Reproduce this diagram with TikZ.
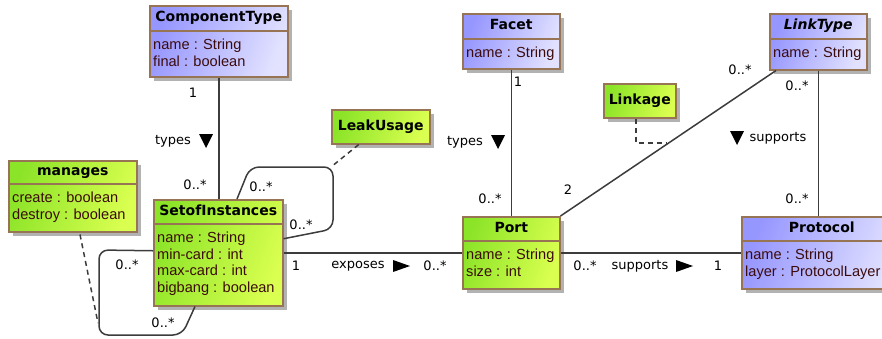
\documentclass[tikz,border=0pt]{standalone}
\usepackage{fontspec}
\setmainfont{DejaVu Sans}
\newfontfamily\attrfont{Liberation Sans}
\usetikzlibrary{calc,shadows}
\definecolor{bordc}{RGB}{150,116,84}
\definecolor{blueL}{RGB}{150,150,255}
\definecolor{blueR}{RGB}{226,226,255}
\definecolor{greenL}{RGB}{140,228,40}
\definecolor{greenR}{RGB}{218,255,80}
\definecolor{attrc}{RGB}{60,12,12}
\definecolor{linec}{RGB}{60,60,60}
\tikzset{
  classbox/.style={draw=bordc, line width=1.5pt, inner sep=0pt,
    drop shadow={shadow xshift=4pt, shadow yshift=-4pt, fill=black!30, opacity=1}},
  bluebox/.style={classbox, left color=blueL, right color=blueR, shading angle=70},
  greenbox/.style={classbox, left color=greenL, right color=greenR, shading angle=70},
  hdr/.style={font=\fontsize{14}{16}\selectfont\bfseries, inner sep=0pt, text=black,
    text height=10pt, text depth=3pt},
  attr/.style={font=\attrfont\fontsize{14.6}{16.6}\selectfont, text=attrc, inner sep=0pt, align=left},
  conn/.style={draw=linec, line width=1.5pt},
  dashconn/.style={draw=linec, line width=1.5pt, dashed, dash pattern=on 5pt off 4pt},
  lbl/.style={font=\fontsize{13}{15}\selectfont, text=black, inner sep=0pt},
  tri/.style={fill=black}
}
% #1 name, #2 style, #3 x, #4 y, #5 w, #6 h, #7 header height, #8 title, #9 attributes
\newcommand\umlclass[9]{%
  \node[#2, minimum width=#5pt, minimum height=#6pt, anchor=north west] (#1) at (#3,#4) {};
  \draw[bordc, line width=1.5pt] ($(#1.north west)+(0,#7)$) -- ($(#1.north east)+(0,#7)$);
  \node[hdr] (#1-t) at ($(#1.north)+(0,#7/2)$) {#8};
  \node[attr, anchor=north west] (#1-a) at ($(#1.north west)+(4,#7+8)$) {#9};
}
\newcommand\umlsimple[7]{%
  \node[#2, minimum width=#5pt, minimum height=#6pt, anchor=north west] (#1) at (#3,#4) {};
  \node[hdr] (#1-t) at (#1.center) {#7};
}
\newcommand\tridown[1]{\fill[tri] ($(#1)+(-7,-7)$) -- ($(#1)+(7,-7)$) -- ($(#1)+(0,7)$) -- cycle;}
\newcommand\triright[1]{\fill[tri] ($(#1)+(-8,-6)$) -- ($(#1)+(-8,6)$) -- ($(#1)+(9,0)$) -- cycle;}
\begin{document}
\begin{tikzpicture}[x=1pt,y=-1pt]
\useasboundingbox (0,0) rectangle (882,338);
% classes
\umlclass{ct}{bluebox}{149}{5}{138}{71}{26}{ComponentType}{name : String\\final : boolean}
\umlclass{facet}{bluebox}{462}{13}{97}{55}{26}{Facet}{name : String}
\umlclass{lt}{bluebox}{769}{13}{97}{56}{26}{\itshape LinkType}{name : String}
\umlclass{proto}{bluebox}{741}{216}{160}{72}{25}{Protocol}{name : String\\layer : ProtocolLayer}
\umlclass{man}{greenbox}{8}{160}{128}{71}{24}{manages}{create : boolean\\destroy : boolean}
\umlclass{si}{greenbox}{153}{199}{129}{106}{25}{SetofInstances}{name : String\\min-card : int\\max-card : int\\bigbang : boolean}
\umlclass{port}{greenbox}{462}{216}{97}{72}{25}{Port}{name : String\\size : int}
\umlsimple{leak}{greenbox}{331}{109}{98}{34}{LeakUsage}
\umlsimple{link}{greenbox}{603}{83}{72}{34}{Linkage}
% connectors
\draw[conn] (ct.south) -- (ct.south |- si.north);
\draw[conn] (facet.south) -- (facet.south |- port.north);
\draw[conn] ($(lt.south west)+(7,0)$) -- (port.north east);
\draw[conn] (lt.south) -- (lt.south |- proto.north);
\draw[conn] (si.east) -- (port.west);
\draw[conn] (port.east) -- (proto.west);
% self loops
\coordinate (loopc) at (331,167);
\coordinate (leftc) at (98,323);
\draw[conn, rounded corners=9pt] ($(si.north west)+(84,0)$) -- (250,167) -- (333,167) -- (333,229) -- ($(si.east)+(0,-14)$);
\draw[conn, rounded corners=9pt] ($(si.west)+(0,-2)$) -- (99,250) -- (99,335) -- (182,335) -- ($(si.south west)+(42,0)$);
% dashed associations
\draw[dashconn] ($(leak.south)+(-22,0)$) -- (loopc);
\draw[dashconn] ($(man.south west)+(72,2)$) -- (leftc);
\coordinate (linkc) at (667,143);
\draw[dashconn] ($(link.south west)+(33,0)$) |- (linkc);
% labels
\node[lbl] (l1) at (193,93) {1};
\node[lbl] (l2) at (173,141) {types};
\coordinate (tr1) at (206,141);
\tridown{tr1}
\node[lbl] (l3) at (195,185) {0..*};
\node[lbl] (l4) at (261,187) {0..*};
\node[lbl] (l5) at (301,225) {0..*};
\node[lbl] (l6) at (127,265) {0..*};
\node[lbl] (l7) at (163,323) {0..*};
\node[lbl] (l8) at (296,266) {1};
\node[lbl] (l9) at (358,266) {exposes};
\coordinate (tr2) at (401,266);
\triright{tr2}
\node[lbl] (l10) at (435,266) {0..*};
\node[lbl] (l11) at (518,82) {1};
\node[lbl] (l12) at (465,142) {types};
\coordinate (tr3) at (498,142);
\tridown{tr3}
\node[lbl] (l13) at (490,199) {0..*};
\node[lbl] (l14) at (568,190) {2};
\node[lbl] (l15) at (740,70) {0..*};
\node[lbl] (l16) at (797,86) {0..*};
\coordinate (tr4) at (737,138);
\tridown{tr4}
\node[lbl] (l17) at (778,138) {supports};
\node[lbl] (l18) at (797,199) {0..*};
\node[lbl] (l19) at (585,266) {0..*};
\node[lbl] (l20) at (640,266) {supports};
\coordinate (tr5) at (684,266);
\triright{tr5}
\node[lbl] (l21) at (718,266) {1};
\end{tikzpicture}
\end{document}
